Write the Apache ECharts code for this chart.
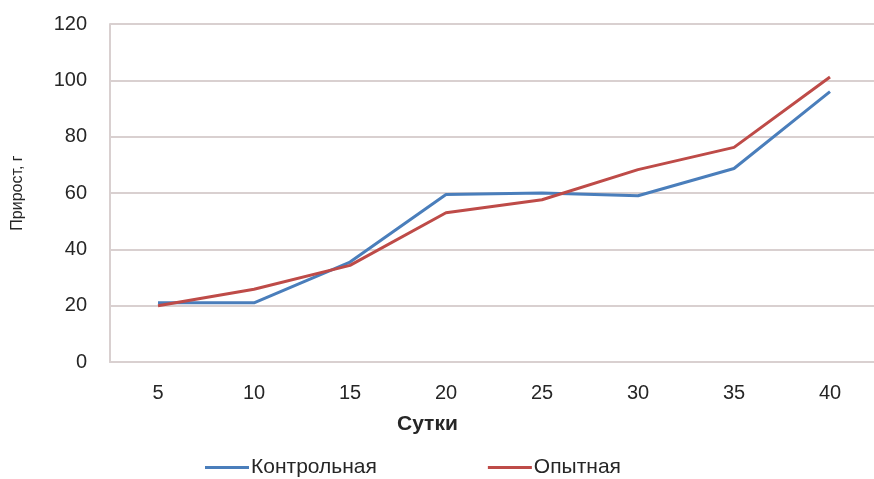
<!DOCTYPE html>
<html>
<head>
<meta charset="utf-8">
<script src="https://cdn.jsdelivr.net/npm/echarts@6/dist/echarts.min.js"></script>
<style>
  html, body { margin: 0; padding: 0; background: #fff; }
  #chart { width: 874px; height: 479px; }
</style>
</head>
<body>
<div id="chart"></div>
<script>
const days = ["5", "10", "15", "20", "25", "30", "35", "40"];
const controlGain = [21, 21, 35.5, 59.5, 60, 59, 68.7, 96];
const trialGain = [20, 25.8, 34.3, 53, 57.6, 68.3, 76.2, 101.2];

const GRID_COLOR = "#d9d0d0";
const TEXT_COLOR = "#262626";
const FONT = "Liberation Sans, Arial, sans-serif";

const chart = echarts.init(document.getElementById("chart"));

chart.setOption({
  animation: false,
  textStyle: { fontFamily: FONT },
  grid: { left: 110, top: 24, width: 768, height: 338, outerBoundsMode: "none" },
  legend: {
    top: 452,
    left: 200,
    itemGap: 111,
    itemWidth: 44,
    itemHeight: 3,
    icon: "rect",
    textStyle: { color: TEXT_COLOR, fontSize: 21, padding: [0, 0, 0, -3] },
    data: ["Контрольная", "Опытная"],
  },
  xAxis: {
    type: "category",
    data: days,
    boundaryGap: true,
    axisLine: { lineStyle: { color: GRID_COLOR, width: 2 } },
    axisTick: { show: false },
    axisLabel: { color: TEXT_COLOR, fontSize: 20, margin: 21 },
  },
  yAxis: {
    type: "value",
    min: 0,
    max: 120,
    interval: 20,
    name: "Прирост, г",
    nameLocation: "middle",
    nameGap: 84,
    nameTextStyle: { color: TEXT_COLOR, fontSize: 16 },
    axisLine: { show: true, lineStyle: { color: GRID_COLOR, width: 2 } },
    axisTick: { show: false },
    axisLabel: { color: TEXT_COLOR, fontSize: 20, margin: 23 },
    splitLine: { lineStyle: { color: GRID_COLOR, width: 2 } },
  },
  graphic: [
    {
      type: "text",
      left: 397,
      top: 414,
      style: { text: "Сутки", fill: TEXT_COLOR, fontSize: 21, fontWeight: "bold", fontFamily: FONT },
    },
  ],
  series: [
    {
      name: "Контрольная",
      type: "line",
      data: controlGain,
      symbol: "none",
      lineStyle: { color: "#4a7ebb", width: 3 },
      itemStyle: { color: "#4a7ebb" },
    },
    {
      name: "Опытная",
      type: "line",
      data: trialGain,
      symbol: "none",
      lineStyle: { color: "#be4b48", width: 3 },
      itemStyle: { color: "#be4b48" },
    },
  ],
});
</script>
</body>
</html>
